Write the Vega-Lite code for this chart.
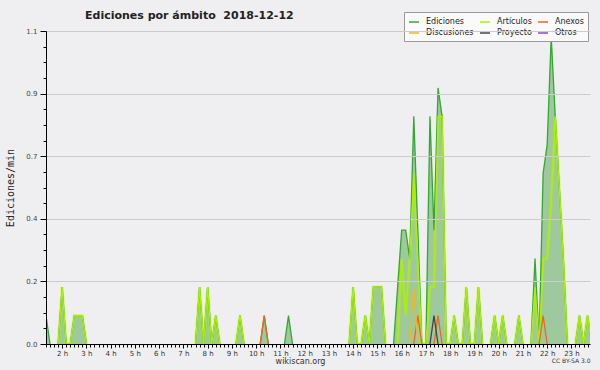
{
"$schema": "https://vega.github.io/schema/vega-lite/v6.json",
"width": 544, "height": 313,
"autosize": {"type": "none"},
"padding": {"left": 46, "top": 31, "right": 10, "bottom": 26},
"background": "#efeff1",
"config": {"view": {"stroke": null}, "font": "DejaVu Sans"},
"title": {"text": "Ediciones por ámbito\u00a0 2018-12-12", "anchor": "start", "frame": "group", "dx": 39, "dy": 19, "fontSize": 11, "fontWeight": "bold", "color": "#222222", "offset": 10},
"data": {"values": [
{"min": 80, "Ediciones": 0.1},
{"min": 90, "Ediciones": 0},
{"min": 100},
{"min": 110, "Ediciones": 0, "Artículos": 0},
{"min": 120, "Ediciones": 0.2, "Artículos": 0.2},
{"min": 130, "Ediciones": 0, "Artículos": 0},
{"min": 140, "Ediciones": 0, "Artículos": 0},
{"min": 150, "Ediciones": 0.1, "Artículos": 0.1},
{"min": 160, "Ediciones": 0.1, "Artículos": 0.1},
{"min": 170, "Ediciones": 0.1, "Artículos": 0.1},
{"min": 180, "Ediciones": 0, "Artículos": 0},
{"min": 190},
{"min": 450, "Ediciones": 0, "Artículos": 0},
{"min": 460, "Ediciones": 0.2, "Artículos": 0.2},
{"min": 470, "Ediciones": 0, "Artículos": 0},
{"min": 480, "Ediciones": 0.2, "Artículos": 0.2},
{"min": 490, "Ediciones": 0, "Artículos": 0},
{"min": 500, "Ediciones": 0.1, "Artículos": 0.1},
{"min": 510, "Ediciones": 0, "Artículos": 0},
{"min": 520},
{"min": 550, "Ediciones": 0, "Artículos": 0},
{"min": 560, "Ediciones": 0.1, "Artículos": 0.1},
{"min": 570, "Ediciones": 0, "Artículos": 0},
{"min": 580},
{"min": 610, "Ediciones": 0, "Anexos": 0},
{"min": 620, "Ediciones": 0.1, "Anexos": 0.1},
{"min": 630, "Ediciones": 0, "Anexos": 0},
{"min": 640},
{"min": 670, "Ediciones": 0},
{"min": 680, "Ediciones": 0.1},
{"min": 690, "Ediciones": 0},
{"min": 700},
{"min": 830, "Ediciones": 0, "Artículos": 0},
{"min": 840, "Ediciones": 0.2, "Artículos": 0.2},
{"min": 850, "Ediciones": 0, "Artículos": 0},
{"min": 860, "Ediciones": 0, "Artículos": 0},
{"min": 870, "Ediciones": 0.1, "Artículos": 0.1},
{"min": 880, "Ediciones": 0, "Artículos": 0},
{"min": 890, "Ediciones": 0.2, "Artículos": 0.2},
{"min": 900, "Ediciones": 0.2, "Artículos": 0.2},
{"min": 910, "Ediciones": 0.2, "Artículos": 0.2},
{"min": 920, "Ediciones": 0, "Artículos": 0},
{"min": 930},
{"min": 940, "Ediciones": 0},
{"min": 950, "Ediciones": 0.2, "Artículos": 0},
{"min": 960, "Ediciones": 0.4, "Artículos": 0.3},
{"min": 970, "Ediciones": 0.4, "Artículos": 0.1},
{"min": 980, "Ediciones": 0.3, "Artículos": 0.3, "Discusiones": 0},
{"min": 990, "Ediciones": 0.8, "Artículos": 0.6, "Discusiones": 0.2, "Anexos": 0},
{"min": 1000, "Ediciones": 0.4, "Artículos": 0.3, "Discusiones": 0, "Anexos": 0.1},
{"min": 1010, "Ediciones": 0, "Artículos": 0, "Anexos": 0},
{"min": 1020, "Ediciones": 0, "Artículos": 0},
{"min": 1030, "Ediciones": 0.8, "Artículos": 0.2, "Proyecto": 0},
{"min": 1040, "Ediciones": 0.4, "Artículos": 0.2, "Proyecto": 0.1, "Anexos": 0},
{"min": 1050, "Ediciones": 0.9, "Artículos": 0.8, "Proyecto": 0, "Anexos": 0.1},
{"min": 1060, "Ediciones": 0.8, "Artículos": 0.8, "Anexos": 0},
{"min": 1070, "Ediciones": 0, "Artículos": 0},
{"min": 1080, "Ediciones": 0, "Artículos": 0},
{"min": 1090, "Ediciones": 0.1, "Artículos": 0.1},
{"min": 1100, "Ediciones": 0, "Artículos": 0},
{"min": 1110, "Ediciones": 0, "Artículos": 0},
{"min": 1120, "Ediciones": 0.2, "Artículos": 0.2},
{"min": 1130, "Ediciones": 0, "Artículos": 0},
{"min": 1140, "Ediciones": 0, "Artículos": 0},
{"min": 1150, "Ediciones": 0.2, "Artículos": 0.2},
{"min": 1160, "Ediciones": 0, "Artículos": 0},
{"min": 1170},
{"min": 1180, "Ediciones": 0, "Artículos": 0},
{"min": 1190, "Ediciones": 0.1, "Artículos": 0.1},
{"min": 1200, "Ediciones": 0, "Artículos": 0},
{"min": 1210, "Ediciones": 0.1, "Artículos": 0.1},
{"min": 1220, "Ediciones": 0, "Artículos": 0},
{"min": 1230},
{"min": 1240, "Ediciones": 0, "Artículos": 0},
{"min": 1250, "Ediciones": 0.1, "Artículos": 0.1},
{"min": 1260, "Ediciones": 0, "Artículos": 0},
{"min": 1270},
{"min": 1280, "Ediciones": 0, "Artículos": 0},
{"min": 1290, "Ediciones": 0.3, "Artículos": 0.2},
{"min": 1300, "Ediciones": 0, "Artículos": 0, "Anexos": 0},
{"min": 1310, "Ediciones": 0.6, "Artículos": 0.3, "Anexos": 0.1},
{"min": 1320, "Ediciones": 0.7, "Artículos": 0.3, "Anexos": 0},
{"min": 1330, "Ediciones": 1.08, "Artículos": 0.5},
{"min": 1340, "Ediciones": 0.8, "Artículos": 0.8},
{"min": 1350, "Ediciones": 0.55, "Artículos": 0.55},
{"min": 1360, "Ediciones": 0.3, "Artículos": 0.3},
{"min": 1370, "Ediciones": 0, "Artículos": 0},
{"min": 1380},
{"min": 1390, "Ediciones": 0, "Artículos": 0},
{"min": 1400, "Ediciones": 0.1, "Artículos": 0.1},
{"min": 1410, "Ediciones": 0, "Artículos": 0},
{"min": 1420, "Ediciones": 0.1, "Artículos": 0.1},
{"min": 1430, "Ediciones": 0, "Artículos": 0}
]},
"layer": [
{
"mark": {"type": "area", "color": "#9ec99e", "clip": true},
"encoding": {
"x": {"field": "min", "type": "quantitative",
"scale": {"domain": [80, 1426], "nice": false, "zero": false},
"axis": {"orient": "bottom", "title": null, "values": [120, 180, 240, 300, 360, 420, 480, 540, 600, 660, 720, 780, 840, 900, 960, 1020, 1080, 1140, 1200, 1260, 1320, 1380], "labelExpr": "(datum.value / 60) + ' h'", "labelFontSize": 7, "labelColor": "#333333", "labelPadding": 1, "tickSize": 4, "tickColor": "#000000", "domainColor": "#000000", "grid": false, "labelFlush": false, "labelOverlap": false, "zindex": 2}},
"y": {"field": "Ediciones", "type": "quantitative",
"scale": {"domain": [0, 1.1], "nice": false, "zero": true},
"axis": {"orient": "left", "values": [0, 0.22, 0.44, 0.66, 0.88, 1.1], "format": ".1f", "labelFontSize": 7, "labelColor": "#444444", "labelPadding": 3, "tickSize": 6, "tickColor": "#000000", "domainColor": "#000000", "grid": true, "gridColor": "#cccccc", "title": "Ediciones/min", "titleFont": "DejaVu Sans Mono", "titleFontSize": 10, "titleFontWeight": "normal", "titleColor": "#222222", "titleX": -36, "titleY": 156.5, "titleAngle": 270, "titleAlign": "center", "titleBaseline": "middle", "zindex": 2}}
}
},
{
"mark": {"type": "line", "color": "#b4f000", "strokeWidth": 3, "opacity": 0.4, "clip": true},
"encoding": {
"x": {"field": "min", "type": "quantitative", "axis": null},
"y": {"field": "Artículos", "type": "quantitative", "axis": null}
}
},
{
"transform": [{"fold": ["Ediciones", "Artículos", "Anexos", "Discusiones", "Proyecto"], "as": ["serie", "v"]}],
"mark": {"type": "line", "strokeWidth": 1.3, "clip": true},
"encoding": {
"x": {"field": "min", "type": "quantitative",
"axis": {"orient": "bottom", "title": "wikiscan.org", "titleFontSize": 8, "titleFontWeight": "normal", "titleColor": "#333333", "titleX": 254, "titleY": 17, "titleAlign": "center", "titleBaseline": "middle", "labels": false, "domain": false, "grid": false, "tickCount": 135, "tickSize": 3, "tickColor": "#000000", "zindex": 2}},
"y": {"field": "v", "type": "quantitative",
"axis": {"orient": "left", "title": "CC BY-SA 3.0", "titleFontSize": 6, "titleFontWeight": "normal", "titleColor": "#333333", "titleAngle": 0, "titleX": 544, "titleY": 329, "titleAlign": "right", "titleBaseline": "middle", "labels": false, "domain": false, "grid": false, "values": [0.055, 0.11, 0.165, 0.275, 0.33, 0.385, 0.495, 0.55, 0.605, 0.715, 0.77, 0.825, 0.935, 0.99, 1.045], "tickSize": 3, "tickColor": "#000000", "zindex": 2}},
"color": {"field": "serie", "type": "nominal",
"scale": {"domain": ["Ediciones", "Discusiones", "Artículos", "Proyecto", "Anexos", "Otros"], "range": ["#33a833", "#f0b820", "#aef000", "#444444", "#ee6622", "#8844ee"]},
"legend": {"orient": "none", "legendX": 358, "legendY": -19, "columns": 3, "title": null, "symbolType": "stroke", "symbolSize": 100, "symbolStrokeWidth": 1.5, "labelFontSize": 8, "labelOffset": 6, "labelColor": "#222222", "rowPadding": 1, "columnPadding": 3, "padding": 4, "fillColor": "#fafafa", "strokeColor": "#999999"}}
}
}
],
"resolve": {"axis": {"x": "independent", "y": "independent"}}
}
